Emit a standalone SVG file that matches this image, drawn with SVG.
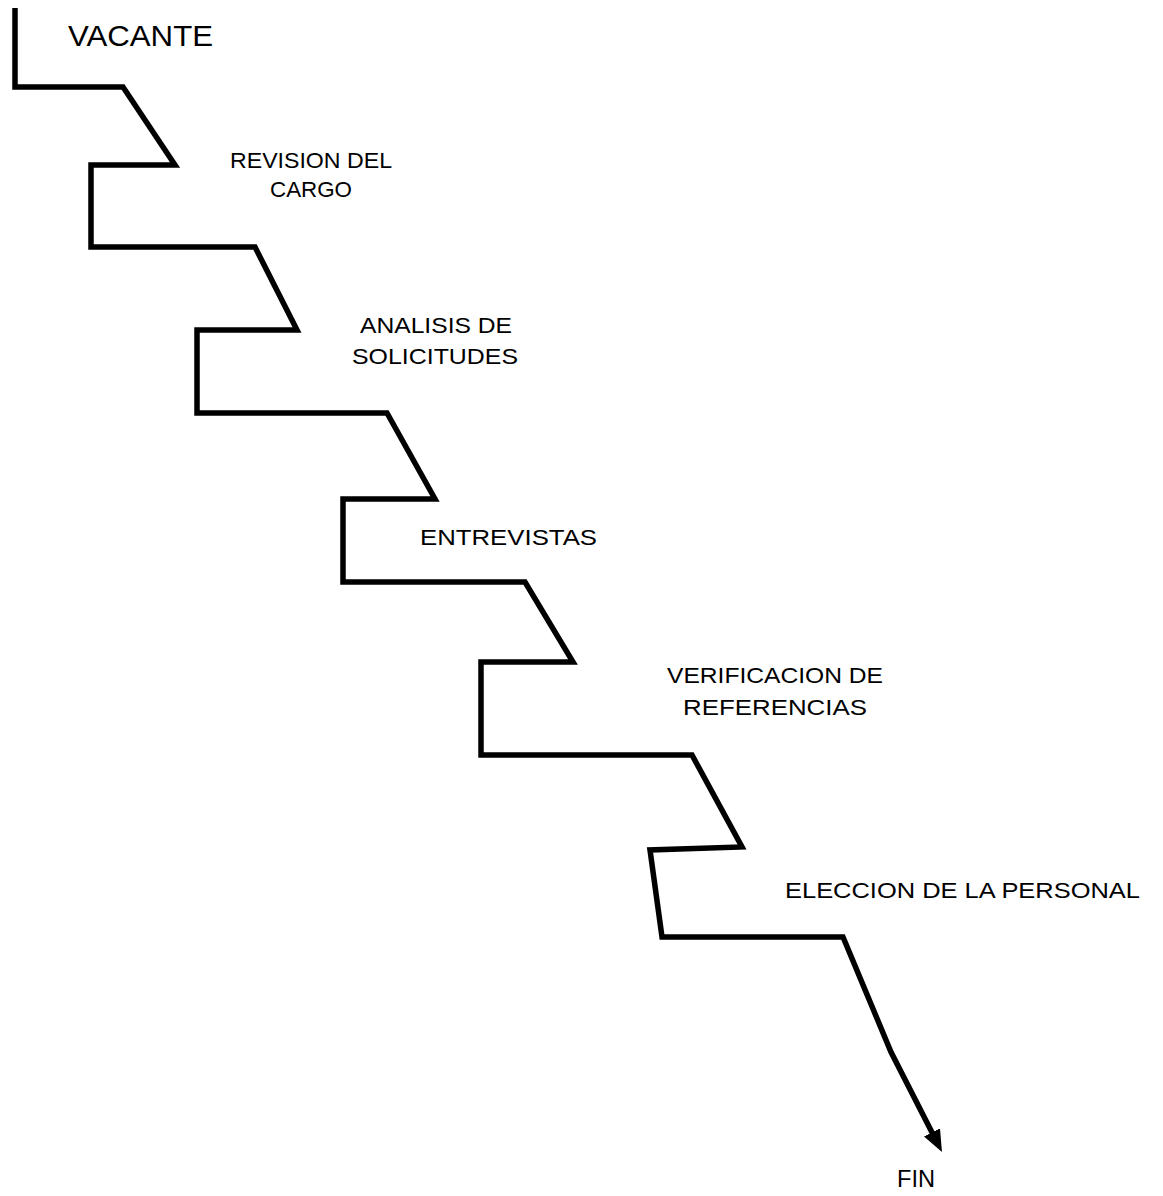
<svg xmlns="http://www.w3.org/2000/svg" width="1163" height="1196" viewBox="0 0 1163 1196">
  <style>
    .lbl { font-family: "Liberation Sans", Arial, sans-serif; fill: #000; }
    .s22 { font-size: 22.5px; }
    .stair { fill: none; stroke: #000; stroke-width: 5.5; stroke-linejoin: miter; stroke-linecap: butt; }
  </style>
  <defs>
    <marker id="arrow" viewBox="0 0 22 18" refX="8" refY="9" markerWidth="22" markerHeight="18" markerUnits="userSpaceOnUse" orient="auto">
      <path d="M0,0 L22,9 L0,18 z" fill="#000"/>
    </marker>
  </defs>
  <rect width="1163" height="1196" fill="#fff"/>
  <g id="connectors">
    <path class="stair" marker-end="url(#arrow)" d="M15,8 L15,87 L123,87 L175,165 L91,165 L91,247 L255,247 L297,330 L197,330 L197,413 L387,413 L435,499 L343,499 L343,582 L525,582 L573,662 L481,662 L481,755 L692,755 L742,847 L650,850 L662,937 L843,937 L891,1052 L935.6,1139.5"/>
  </g>
  <g id="vacante">
    <text class="lbl" x="68" y="46" font-size="29.5" textLength="145" lengthAdjust="spacingAndGlyphs">VACANTE</text>
  </g>
  <g id="revision">
    <text class="lbl s22" x="230" y="168" textLength="162" lengthAdjust="spacingAndGlyphs">REVISION DEL</text>
    <text class="lbl s22" x="270" y="197" textLength="82" lengthAdjust="spacingAndGlyphs">CARGO</text>
  </g>
  <g id="analisis">
    <text class="lbl s22" x="360" y="333" textLength="152" lengthAdjust="spacingAndGlyphs">ANALISIS DE</text>
    <text class="lbl s22" x="352" y="364" textLength="166" lengthAdjust="spacingAndGlyphs">SOLICITUDES</text>
  </g>
  <g id="entrevistas">
    <text class="lbl s22" x="420" y="545" textLength="177" lengthAdjust="spacingAndGlyphs">ENTREVISTAS</text>
  </g>
  <g id="verificacion">
    <text class="lbl s22" x="667" y="683" textLength="216" lengthAdjust="spacingAndGlyphs">VERIFICACION DE</text>
    <text class="lbl s22" x="683" y="715" textLength="184" lengthAdjust="spacingAndGlyphs">REFERENCIAS</text>
  </g>
  <g id="eleccion">
    <text class="lbl s22" x="785" y="898" textLength="355" lengthAdjust="spacingAndGlyphs">ELECCION DE LA PERSONAL</text>
  </g>
  <g id="fin">
    <text class="lbl" x="897" y="1187" font-size="23.5" textLength="38" lengthAdjust="spacingAndGlyphs">FIN</text>
  </g>
</svg>
